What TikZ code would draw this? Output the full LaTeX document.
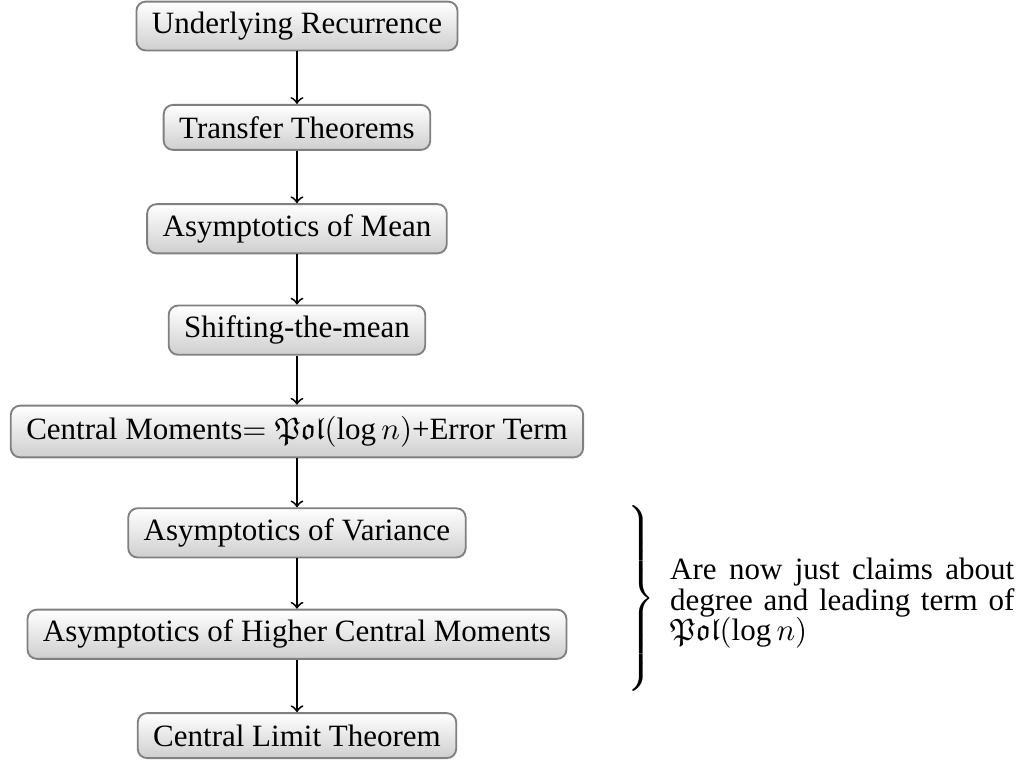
\documentclass[tikz,border=0pt]{standalone}
\usepackage{amssymb}
\usepackage{fontspec}
\setmainfont{Liberation Serif}
\usetikzlibrary{positioning}

\begin{document}
\begin{tikzpicture}[node distance=32.7pt]
        \tikzstyle{box} = [draw=gray, semithick, rectangle, rounded corners=3pt, top color=white, bottom color=gray!38, minimum height=14.5pt, inner xsep=5pt];

        \useasboundingbox (0,0) rectangle (331.3pt,-248.1pt);

        \node(recurrence)[box] at (95.8pt,-8.4pt){Underlying Recurrence};
        \node(transfer)[box, below of=recurrence]{Transfer Theorems};
        \node(mean)[box, below of=transfer]{Asymptotics of Mean};
        \node(shifting)[box, below of=mean]{Shifting-the-mean};
        \node(moments)[box, below of=shifting]{Central Moments$=\mathfrak{Pol}(\log n)$+Error Term};
        \node(variance)[box, below of=moments]{Asymptotics of Variance};
        \node(higher)[box, below of=variance]{Asymptotics of Higher Central Moments};
        \node(clt)[box, below of=higher]{Central Limit Theorem};

        \node(brace)[anchor=east, inner sep=0pt] at (211.5pt,-193pt){$\left.\vcenter{\hbox{\rule{0pt}{65pt}}}\right\}$};
        \node(claims)[anchor=west, text width=111pt, align=justify, inner sep=0pt, font=\fontsize{10}{9.8}\selectfont] at (216pt,-194.6pt){Are now just claims about degree and leading term of $\mathfrak{Pol}(\log n)$};

        \draw [->, semithick] (recurrence) -- (transfer);
        \draw [->, semithick] (transfer) -- (mean);
        \draw [->, semithick] (mean) -- (shifting);
        \draw [->, semithick] (shifting) -- (moments);
        \draw [->, semithick] (moments) -- (variance);
        \draw [->, semithick] (variance) -- (higher);
        \draw [->, semithick] (higher) -- (clt);
    \end{tikzpicture}
\end{document}
